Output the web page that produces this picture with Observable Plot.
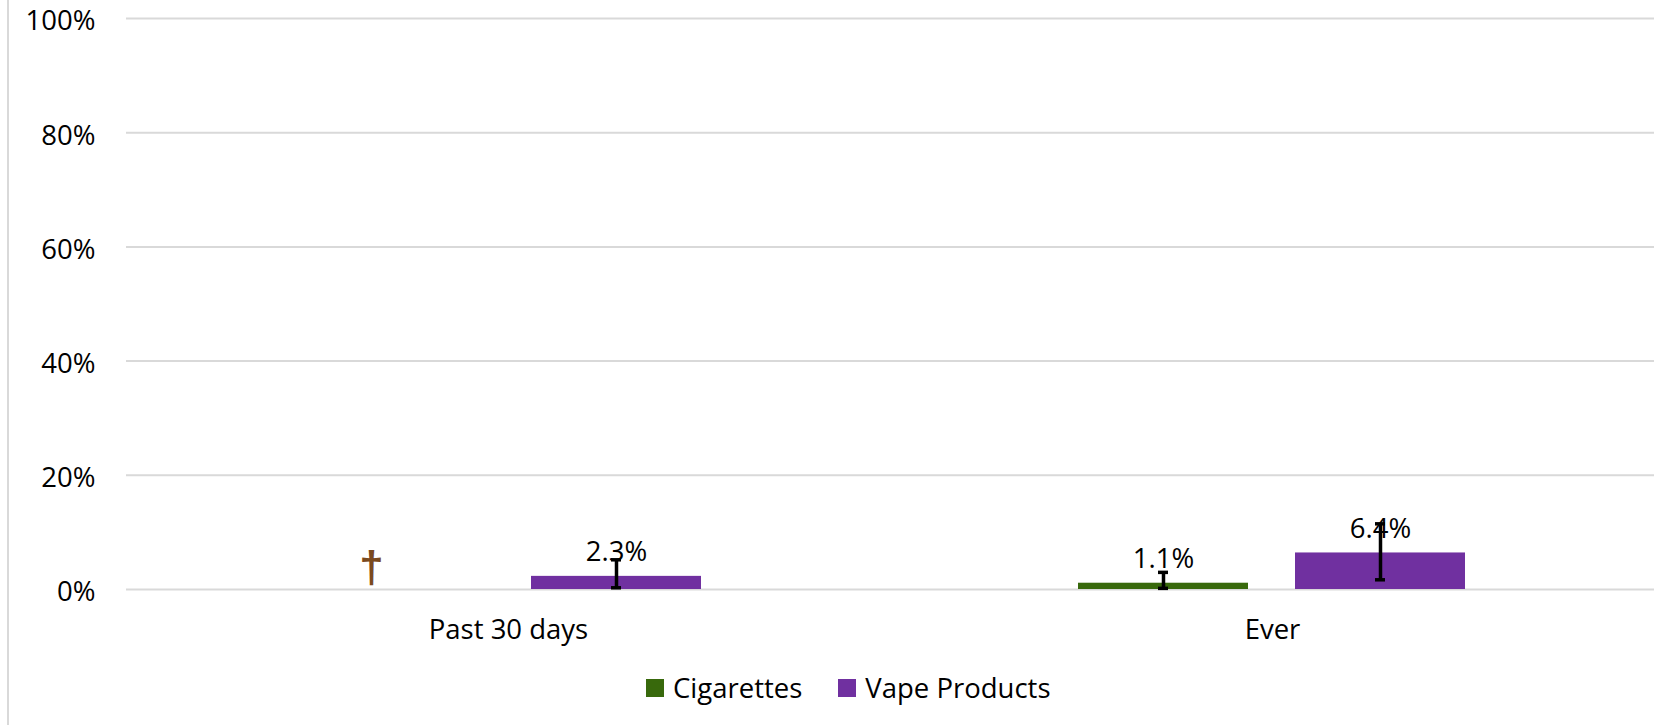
<!DOCTYPE html>
<html>
<head>
<meta charset="utf-8">
<script src="https://cdn.jsdelivr.net/npm/d3@7"></script>
<script src="https://cdn.jsdelivr.net/npm/@observablehq/plot@0.6"></script>
<style>
  html, body { margin: 0; padding: 0; background: #fff; }
  #wrap { position: relative; width: 1669px; height: 725px; overflow: hidden; font-family: "Open Sans", sans-serif; }
  #frame-left { position: absolute; left: 7px; top: 0; width: 2px; height: 725px; background: #D9D9D9; }
  #chart svg { display: block; }
  #legend { position: absolute; left: 646px; top: 679px; display: flex; align-items: center; height: 18px; font-size: 27.5px; color: #000; }
  .sw { width: 18px; height: 18px; display: inline-block; margin-right: 9px; }
  .item { display: flex; align-items: center; margin-right: 36px; white-space: nowrap; line-height: 18px; }
</style>
</head>
<body>
<div id="wrap">
  <div id="chart"></div>
  <div id="frame-left"></div>
  <div id="legend"></div>
</div>
<script>
// ---- data ----
const categories = ["Past 30 days", "Ever"];
const series = ["Cigarettes", "Vape Products"];
const seriesColors = ["#38690C", "#7030A0"];
const cigarettes = [null, 1.1];      // null = suppressed (†)
const cigarettesLow = [null, 0.2];
const cigarettesHigh = [null, 3.0];
const vape = [2.3, 6.4];
const vapeLow = [0.3, 1.7];
const vapeHigh = [5.2, 11.5];
const yTicks = [0, 20, 40, 60, 80, 100];
const suppressedSymbol = "†";

const rows = [];
categories.forEach((c, i) => {
  rows.push({category: c, series: series[0], value: cigarettes[i], lo: cigarettesLow[i], hi: cigarettesHigh[i]});
  rows.push({category: c, series: series[1], value: vape[i], lo: vapeLow[i], hi: vapeHigh[i]});
});
const shown = rows.filter(d => d.value != null);
const suppressed = rows.filter(d => d.value == null);

const FS = 27.5;
const chart = Plot.plot({
  width: 1669,
  height: 662,
  marginLeft: 125,
  marginRight: 15,
  marginTop: 18,
  marginBottom: 73,
  style: {fontFamily: "Open Sans, sans-serif", fontSize: FS + "px", color: "#000", background: "#fff", overflow: "visible"},
  fx: {domain: categories, padding: 0, label: null},
  x: {domain: series, paddingInner: 0.2156, paddingOuter: 0.861, axis: null},
  y: {domain: [0, 100], axis: null},
  color: {domain: series, range: seriesColors},
  marks: [
    Plot.ruleY(yTicks, {y: d => d, stroke: "#D9D9D9", strokeWidth: 2}),
    Plot.axisY(yTicks, {tickFormat: d => d + "%", tickSize: 0, tickPadding: 31, fontSize: FS, label: null, fill: "#000", dy: 3}),
    Plot.axisFx({anchor: "bottom", tickSize: 0, tickPadding: 30, fontSize: FS, label: null, fill: "#000"}),
    Plot.barY(shown, {fx: "category", x: "series", y: "value", fill: "series"}),
    Plot.ruleX(shown, {fx: "category", x: "series", y1: "lo", y2: "hi", stroke: "#000", strokeWidth: 3.5}),
    Plot.tickY(shown, {fx: "category", x: "series", y: "lo", stroke: "#000", strokeWidth: 3.5, insetLeft: 80, insetRight: 80}),
    Plot.tickY(shown, {fx: "category", x: "series", y: "hi", stroke: "#000", strokeWidth: 3.5, insetLeft: 80, insetRight: 80}),
    Plot.text(shown, {fx: "category", x: "series", y: "value", text: d => d.value.toFixed(1) + "%", dy: -24, lineAnchor: "middle", fontSize: FS, fill: "#000"}),
    Plot.text(suppressed, {fx: "category", x: "series", y: 0, text: d => suppressedSymbol, dx: -28, dy: -8, lineAnchor: "bottom", fontSize: 44, fontWeight: "bold", fontFamily: "Liberation Sans, sans-serif", fill: "#7B4A1E"})
  ]
});
document.getElementById("chart").appendChild(chart);

const legend = document.getElementById("legend");
series.forEach((s, i) => {
  const item = document.createElement("div");
  item.className = "item";
  const sw = document.createElement("span");
  sw.className = "sw";
  sw.style.background = seriesColors[i];
  const label = document.createElement("span");
  label.textContent = s;
  item.appendChild(sw);
  item.appendChild(label);
  legend.appendChild(item);
});
</script>
</body>
</html>
